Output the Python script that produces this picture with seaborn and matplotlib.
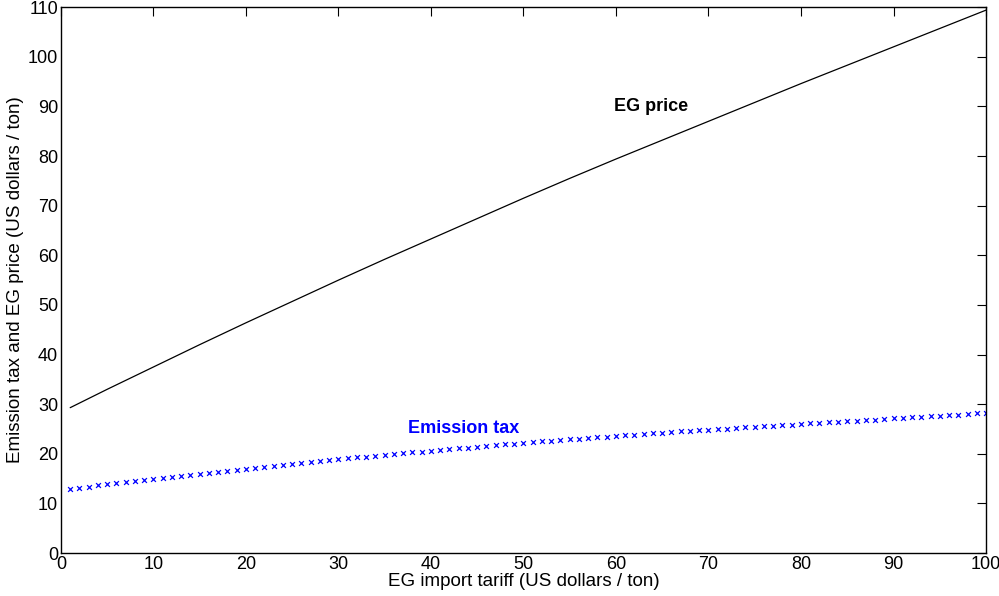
import matplotlib
matplotlib.use("Agg")
import matplotlib.pyplot as plt
import numpy as np
import pandas as pd
import seaborn as sns

# EG price, every 5 units of tariff
price_tariff = [1, 5, 10, 15, 20, 25, 30, 35, 40, 45, 50,
                55, 60, 65, 70, 75, 80, 85, 90, 95, 100]
eg_price = [29.3, 33.0, 37.5, 42.0, 46.4, 50.7, 55.0, 59.2, 63.3, 67.4, 71.5,
            75.5, 79.4, 83.2, 87.0, 90.8, 94.6, 98.3, 102.0, 105.7, 109.4]

# emission tax, one marker per tariff unit
tax_tariff = list(range(1, 101))
emission_tax = [
    13.0, 13.2, 13.4, 13.7, 13.9, 14.1, 14.3, 14.5, 14.7, 14.9,
    15.1, 15.3, 15.5, 15.8, 16.0, 16.2, 16.4, 16.6, 16.8, 17.0,
    17.2, 17.4, 17.6, 17.8, 18.0, 18.2, 18.4, 18.5, 18.7, 18.9,
    19.1, 19.3, 19.4, 19.6, 19.8, 19.9, 20.1, 20.3, 20.4, 20.6,
    20.8, 20.9, 21.1, 21.2, 21.4, 21.6, 21.7, 21.9, 22.0, 22.2,
    22.3, 22.5, 22.6, 22.7, 22.9, 23.0, 23.2, 23.3, 23.4, 23.6,
    23.7, 23.8, 24.0, 24.1, 24.2, 24.4, 24.5, 24.6, 24.8, 24.9,
    25.0, 25.1, 25.3, 25.4, 25.5, 25.6, 25.7, 25.8, 25.9, 26.05,
    26.2, 26.3, 26.4, 26.5, 26.6, 26.7, 26.8, 26.9, 27.1, 27.2,
    27.3, 27.4, 27.5, 27.6, 27.7, 27.8, 27.9, 28.0, 28.2, 28.3,
]

x_ticks = [0, 10, 20, 30, 40, 50, 60, 70, 80, 90, 100]
y_ticks = [0, 10, 20, 30, 40, 50, 60, 70, 80, 90, 100, 110]

sns.set_style("white")
plt.rcParams["font.family"] = ["Liberation Sans", "DejaVu Sans"]
plt.rcParams["text.color"] = "black"
plt.rcParams["axes.labelcolor"] = "black"

price_df = pd.DataFrame({"tariff": price_tariff, "price": eg_price})
tax_df = pd.DataFrame({"tariff": tax_tariff, "tax": emission_tax})

fig = plt.figure(figsize=(9.99, 5.96), dpi=100)
ax = fig.add_axes([0.061, 0.072, 0.926, 0.916])

sns.lineplot(data=price_df, x="tariff", y="price", ax=ax,
             color="black", linewidth=0.9)
sns.scatterplot(data=tax_df, x="tariff", y="tax", ax=ax, marker="x",
                color="blue", s=12, linewidth=0.9)

ax.text(63.8, 90.0, "EG price", fontsize=13, fontweight="bold",
        ha="center", va="center", color="black")
ax.text(43.5, 25.2, "Emission tax", fontsize=13, fontweight="bold",
        ha="center", va="center", color="blue")

ax.set_xlim(0, 100)
ax.set_ylim(0, 110)
ax.set_xticks(x_ticks)
ax.set_yticks(y_ticks)
ax.tick_params(direction="in", length=6.5, width=0.8, labelsize=13,
               top=True, right=True, colors="black", pad=2)
ax.set_xlabel("EG import tariff (US dollars / ton)", fontsize=13.5,
              labelpad=0)
ax.set_ylabel("Emission tax and EG price (US dollars / ton)", fontsize=13.5,
              labelpad=3)
for spine in ax.spines.values():
    spine.set_visible(True)
    spine.set_color("black")
    spine.set_linewidth(1.0)

fig.savefig("out.png", dpi=100)
